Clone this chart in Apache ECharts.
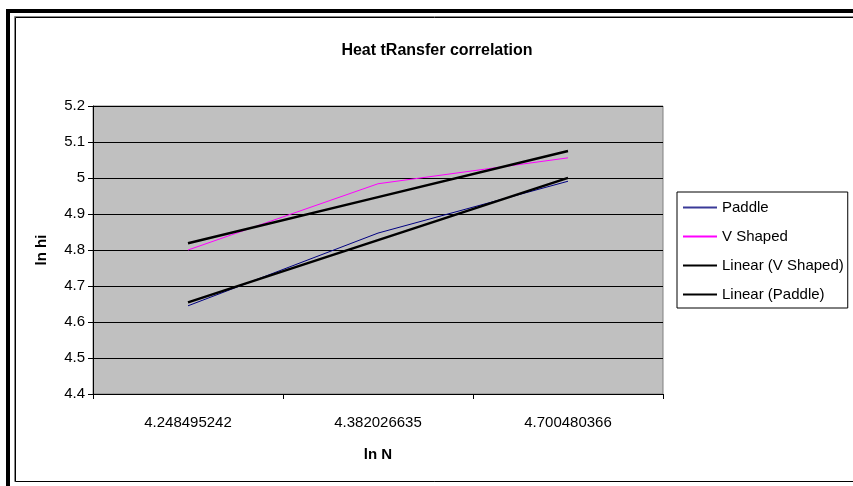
<!DOCTYPE html>
<html>
<head>
<meta charset="utf-8">
<script src="https://cdn.jsdelivr.net/npm/echarts@6/dist/echarts.min.js"></script>
<style>
html,body{margin:0;padding:0;background:#fff;}
#chart{width:853px;height:486px;}
</style>
</head>
<body>
<div id="chart"></div>
<script>
var categories = ['4.248495242', '4.382026635', '4.700480366'];
var paddle = [4.645, 4.847, 4.991];
var vShaped = [4.800, 4.984, 5.056];
var linearV = [4.8186, 4.9468, 5.0750];
var linearPaddle = [4.6546, 4.8275, 5.0004];
var eqV = 'y = 0.1282x + 4.6904';
var eqPaddle = 'y = 0.1729x + 4.4817';

var FONT = 'Arial, "Liberation Sans", sans-serif';
var chart = echarts.init(document.getElementById('chart'));

function withLabel(arr, idx, text, offset) {
  return arr.map(function (v, i) {
    if (i !== idx) return v;
    return {
      value: v,
      label: {
        show: true, formatter: text, position: 'inside', offset: offset,
        color: '#000', fontFamily: FONT, fontSize: 15
      }
    };
  });
}

chart.setOption({
  animation: false,
  backgroundColor: '#fff',
  title: {
    text: 'Heat tRansfer correlation',
    left: 432, top: 38, textAlign: 'center',
    textStyle: { fontFamily: FONT, fontSize: 16, fontWeight: 'bold', color: '#000' }
  },
  graphic: [
    { type: 'rect', shape: { x: 8, y: 11, width: 900, height: 520 }, style: { fill: null, stroke: '#000', lineWidth: 4 }, silent: true },
    { type: 'rect', shape: { x: 14.5, y: 16.5, width: 900, height: 465 }, style: { fill: null, stroke: '#888', lineWidth: 1 }, silent: true },
    { type: 'rect', shape: { x: 15.5, y: 17.5, width: 900, height: 464 }, style: { fill: null, stroke: '#000', lineWidth: 1 }, silent: true }
  ],
  grid: {
    left: 93, right: 190, top: 106, bottom: 92,
    show: true, backgroundColor: '#C0C0C0', borderColor: '#808080', borderWidth: 1
  },
  legend: {
    orient: 'vertical', left: 677, top: 192,
    padding: [7, 4, 5, 6], itemGap: 12, itemWidth: 34, itemHeight: 2,
    borderColor: '#000', borderWidth: 1, backgroundColor: '#fff',
    textStyle: { fontFamily: FONT, fontSize: 15, color: '#000', height: 17, lineHeight: 17 },
    data: [
      { name: 'Paddle', icon: 'rect', itemStyle: { color: '#3a3a98' } },
      { name: 'V Shaped', icon: 'rect', itemStyle: { color: '#FF00FF' } },
      { name: 'Linear (V Shaped)', icon: 'rect', itemStyle: { color: '#000' } },
      { name: 'Linear (Paddle)', icon: 'rect', itemStyle: { color: '#000' } }
    ]
  },
  xAxis: {
    type: 'category', data: categories, boundaryGap: true,
    name: 'ln N', nameLocation: 'middle', nameGap: 53,
    nameTextStyle: { fontFamily: FONT, fontSize: 15, fontWeight: 'bold', color: '#000' },
    axisLine: { lineStyle: { color: '#000', width: 1 } },
    axisTick: { show: true, length: 5, inside: false, lineStyle: { color: '#000' } },
    axisLabel: { fontFamily: FONT, fontSize: 15, color: '#000', margin: 21 },
    splitLine: { show: false }
  },
  yAxis: {
    type: 'value', min: 4.4, max: 5.2, interval: 0.1,
    name: 'ln hi', nameLocation: 'middle', nameGap: 44, nameRotate: 90,
    nameTextStyle: { fontFamily: FONT, fontSize: 15, fontWeight: 'bold', color: '#000' },
    axisLine: { show: true, lineStyle: { color: '#000', width: 1 } },
    axisTick: { show: true, length: 5, lineStyle: { color: '#000' } },
    axisLabel: {
      fontFamily: FONT, fontSize: 15, color: '#000', margin: 8,
      formatter: function (v) { return String(Math.round(v * 10) / 10); }
    },
    splitLine: { show: true, lineStyle: { color: '#000', width: 1 } }
  },
  series: [
    { name: 'Paddle', type: 'line', data: paddle, symbol: 'none',
      lineStyle: { color: '#000080', width: 1 }, itemStyle: { color: '#000080' }, z: 3 },
    { name: 'V Shaped', type: 'line', data: vShaped, symbol: 'none',
      lineStyle: { color: '#FF00FF', width: 1 }, itemStyle: { color: '#FF00FF' }, z: 3 },
    { name: 'Linear (V Shaped)', type: 'line', symbol: 'none',
      data: withLabel(linearV, 1, eqV, [104, -47]),
      lineStyle: { color: '#000', width: 2.5 }, itemStyle: { color: '#000' }, z: 4 },
    { name: 'Linear (Paddle)', type: 'line', symbol: 'none',
      data: withLabel(linearPaddle, 1, eqPaddle, [132, 11]),
      lineStyle: { color: '#000', width: 2.5 }, itemStyle: { color: '#000' }, z: 4 }
  ]
});
</script>
</body>
</html>
